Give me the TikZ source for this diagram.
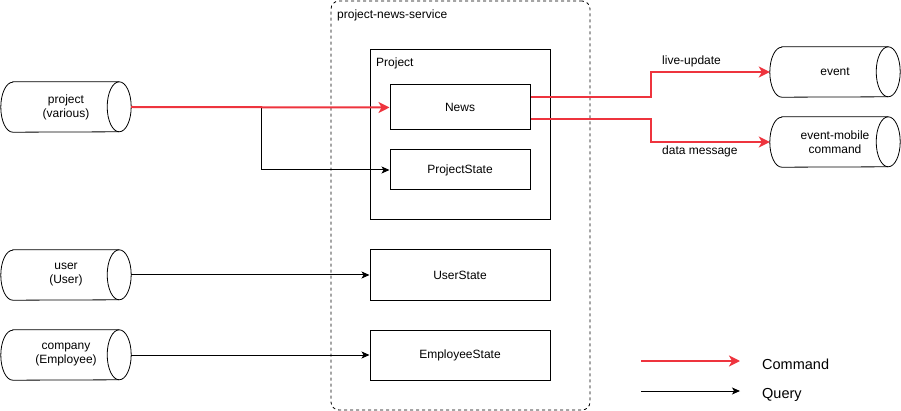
\documentclass[tikz,border=0pt]{standalone}
\usepackage{fontspec}
\setmainfont{Liberation Sans}
\usetikzlibrary{arrows.meta}
\definecolor{cmdred}{RGB}{238,52,62}
\newcommand\mycyl[4]{%
  \node[cylbox] (#1) at (#2,#3) {#4};
  \draw[cylline] ([xshift=12pt]#1.north west) -- ([xshift=-12pt]#1.north east)
    arc[start angle=90,end angle=-90,x radius=12pt,y radius=25pt]
    -- ([xshift=12pt]#1.south west)
    arc[start angle=270,end angle=90,x radius=12pt,y radius=25pt] -- cycle;
  \draw[cylline] ([xshift=-12pt]#1.north east)
    arc[start angle=90,end angle=270,x radius=12pt,y radius=25pt];
}
\begin{document}
\begin{tikzpicture}[x=1pt,y=-1pt,
  every node/.style={font=\fontsize{12}{14}\selectfont, inner sep=0pt},
  cylbox/.style={draw=none, minimum width=130pt, minimum height=50pt, align=center},
  cylline/.style={draw=black, line width=0.8pt},
  box/.style={draw=black, line width=1pt, align=center},
  cmd/.style={draw=cmdred, line width=2pt, -{Stealth[length=11pt,width=11pt,inset=3pt]}},
  qry/.style={draw=black, line width=1pt, -{Stealth[length=8pt,width=7pt,inset=2pt]}},
  lbl/.style={anchor=west},
  leg/.style={anchor=west, font=\fontsize{14.5}{17}\selectfont}]
\useasboundingbox (0,0) rectangle (901,411);
% container
\node[draw=black, line width=0.8pt, dash pattern=on 3pt off 3pt, rounded corners=8pt,
      minimum width=259pt, minimum height=409pt] (svc) at (460.5,205.5) {};
\node[lbl] (svclbl) at (337,15) {project-news-service};
% project box
\node[box, minimum width=180pt, minimum height=170pt] (proj) at (460,135) {};
\node[lbl] (projlbl) at (376,63) {Project};
\node[box, minimum width=140pt, minimum height=45pt] (news) at (460,107.5) {News};
\node[box, minimum width=140pt, minimum height=40pt] (ps) at (460,170) {ProjectState};
\node[box, minimum width=180pt, minimum height=50pt] (us) at (460,275) {UserState};
\node[box, minimum width=180pt, minimum height=50pt] (es) at (460,355) {EmployeeState};
% cylinders
\mycyl{pc}{66}{107}{project\\(various)}
\mycyl{uc}{66}{275}{user\\(User)}
\mycyl{cc}{66}{355}{company\\(Employee)}
\mycyl{ev}{835}{72}{event}
\mycyl{em}{835}{142}{event-mobile\\command}
% connectors
\draw[qry] (pc.east) -- ++(130,0) |- (ps.west);
\draw[cmd] (pc.east) -- (news.west);
\draw[qry] (uc.east) -- (us.west);
\draw[qry] (cc.east) -- (es.west);
\draw[cmd] ([yshift=10.5pt]news.east) -- ++(120,0) |- (ev.west);
\draw[cmd] ([yshift=-11.5pt]news.east) -- ++(120,0) |- (em.west);
\node[lbl] (lu) at (662,61) {live-update};
\node[lbl] (dm) at (662,151) {data message};
% legend
\coordinate (l1a) at (641,361);
\coordinate (l1b) at (740,361);
\coordinate (l2a) at (641,391);
\coordinate (l2b) at (740,391);
\draw[cmd] (l1a) -- (l1b);
\draw[qry] (l2a) -- (l2b);
\node[leg] (lc) at (762,364.5) {Command};
\node[leg] (lq) at (762,394.5) {Query};
\end{tikzpicture}
\end{document}
